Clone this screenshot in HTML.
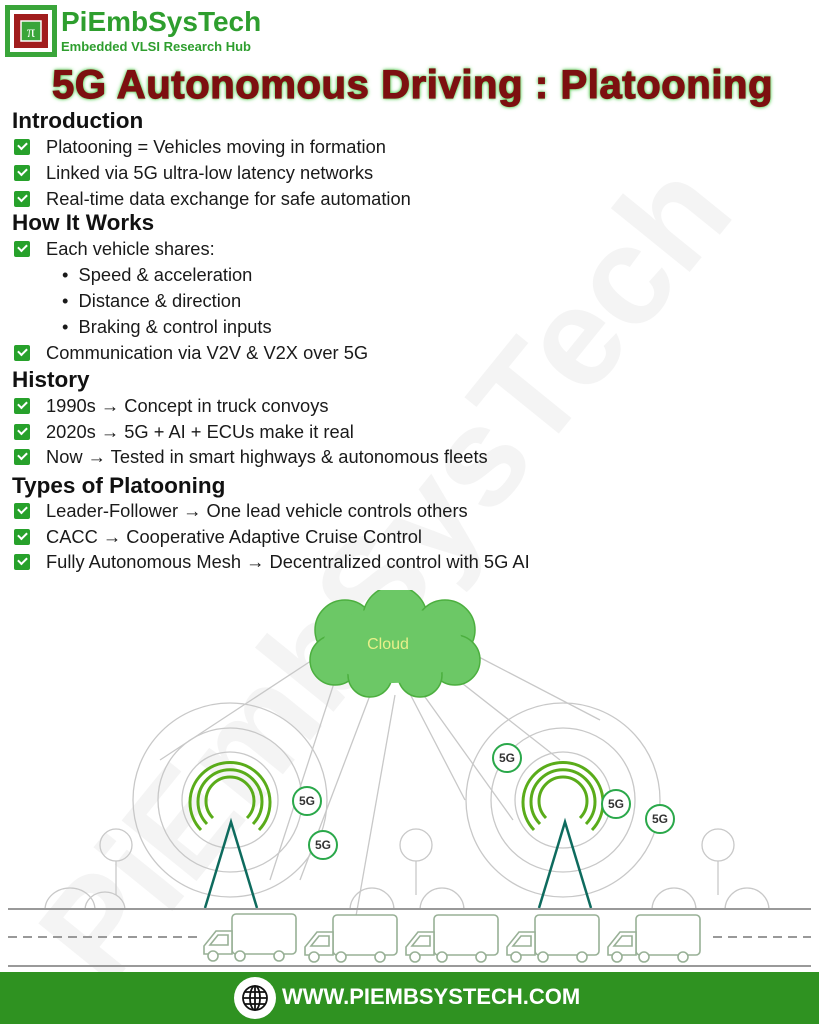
<!DOCTYPE html>
<html><head><meta charset="utf-8"><style>
body{margin:0;width:819px;height:1024px;position:relative;overflow:hidden;background:#fff;font-family:"Liberation Sans",sans-serif}
.a{position:absolute;white-space:nowrap}
.h{font-weight:bold;font-size:22.5px;color:#111;left:12px}
.t{font-size:18.3px;color:#1a1a1a;left:46px}
.cb{position:absolute;left:14px;width:16px;height:16px;background:#27a12b;border-radius:2px}
.cb:after{content:"";position:absolute;left:4px;top:3px;width:7px;height:4px;border-left:2.5px solid #fff;border-bottom:2.5px solid #fff;transform:rotate(-45deg)}
.b{font-size:18.3px;color:#1a1a1a;left:62px}
</style></head><body>
<div class="a" style="left:70px;font-size:140px;font-weight:bold;color:rgba(0,0,0,0.045);transform:rotate(-51deg);transform-origin:left center;top:880px;">PiEmbSysTech</div>

<svg class="a" style="left:5px;top:5px" width="52" height="52" viewBox="0 0 52 52">
<rect x="0" y="0" width="52" height="52" fill="#3aa53a"/>
<rect x="5" y="5" width="42" height="42" fill="#fff"/>
<rect x="9" y="9" width="34" height="34" fill="#a11d1d"/>
<rect x="16" y="16" width="20" height="20" fill="#3aa53a" stroke="#fff" stroke-width="1.5"/>
<text x="26" y="32" font-size="16" fill="#fff" text-anchor="middle" font-family="Liberation Serif">π</text>
</svg>
<div class="a" style="left:61px;top:6px;font-size:28px;font-weight:bold;color:#2e9e2e">PiEmbSysTech</div>
<div class="a" style="left:61px;top:39px;font-size:13px;font-weight:bold;color:#2e9e2e">Embedded VLSI Research Hub</div>

<div class="a" style="left:52px;top:63px;font-size:40px;font-weight:900;color:#7d1010;letter-spacing:0.6px;text-shadow:0 0 3px #3c3,0 0 5px #5c5;-webkit-text-stroke:1.2px #7d1010">5G Autonomous Driving : Platooning</div>

<div class="a h" style="top:108px">Introduction</div>
<div class="cb" style="top:139px"></div><div class="a t" style="top:136px">Platooning = Vehicles moving in formation</div>
<div class="cb" style="top:165px"></div><div class="a t" style="top:162px">Linked via 5G ultra-low latency networks</div>
<div class="cb" style="top:191px"></div><div class="a t" style="top:188px">Real-time data exchange for safe automation</div>
<div class="a h" style="top:210px">How It Works</div>
<div class="cb" style="top:241px"></div><div class="a t" style="top:238px">Each vehicle shares:</div>
<div class="a b" style="top:264px">•&nbsp; Speed &amp; acceleration</div>
<div class="a b" style="top:290px">•&nbsp; Distance &amp; direction</div>
<div class="a b" style="top:316px">•&nbsp; Braking &amp; control inputs</div>
<div class="cb" style="top:345px"></div><div class="a t" style="top:342px">Communication via V2V &amp; V2X over 5G</div>
<div class="a h" style="top:367px">History</div>
<div class="cb" style="top:398px"></div><div class="a t" style="top:395px">1990s → Concept in truck convoys</div>
<div class="cb" style="top:424px"></div><div class="a t" style="top:421px">2020s → 5G + AI + ECUs make it real</div>
<div class="cb" style="top:449px"></div><div class="a t" style="top:446px">Now → Tested in smart highways &amp; autonomous fleets</div>
<div class="a h" style="top:473px">Types of Platooning</div>
<div class="cb" style="top:503px"></div><div class="a t" style="top:500px">Leader-Follower → One lead vehicle controls others</div>
<div class="cb" style="top:529px"></div><div class="a t" style="top:526px">CACC → Cooperative Adaptive Cruise Control</div>
<div class="cb" style="top:554px"></div><div class="a t" style="top:551px">Fully Autonomous Mesh → Decentralized control with 5G AI</div>

<svg class="a" style="left:0;top:590px" width="819" height="382" viewBox="0 590 819 382">
<g fill="none" stroke="#c8c8c8" stroke-width="1.3">
<circle cx="230" cy="800" r="48"/><circle cx="230" cy="800" r="72"/><circle cx="230" cy="800" r="97"/>
<circle cx="563" cy="800" r="48"/><circle cx="563" cy="800" r="72"/><circle cx="563" cy="800" r="97"/>
<line x1="320" y1="655" x2="160" y2="760"/><line x1="335" y1="680" x2="270" y2="880"/>
<line x1="372" y1="690" x2="300" y2="880"/><line x1="395" y1="695" x2="350" y2="950"/>
<line x1="408" y1="690" x2="465" y2="800"/><line x1="420" y1="690" x2="513" y2="820"/>
<line x1="458" y1="680" x2="560" y2="760"/><line x1="475" y1="655" x2="600" y2="720"/>
<circle cx="116" cy="845" r="16"/><line x1="116" y1="861" x2="116" y2="895"/>
<path d="M45 910 a25 22 0 0 1 50 0 M85 910 a20 18 0 0 1 40 0"/>
<circle cx="416" cy="845" r="16"/><line x1="416" y1="861" x2="416" y2="895"/>
<path d="M350 910 a22 22 0 0 1 44 0 M420 910 a22 22 0 0 1 44 0"/>
<circle cx="718" cy="845" r="16"/><line x1="718" y1="861" x2="718" y2="895"/>
<path d="M652 910 a22 22 0 0 1 44 0 M725 910 a22 22 0 0 1 44 0"/>
</g>
<g fill="#6cc866" stroke="#4caf3f" stroke-width="1.5">
<circle cx="345" cy="630" r="30"/><circle cx="395" cy="618" r="32"/><circle cx="445" cy="630" r="30"/>
<circle cx="335" cy="660" r="25"/><circle cx="455" cy="660" r="25"/>
<circle cx="370" cy="675" r="22"/><circle cx="420" cy="675" r="22"/>
</g>
<ellipse cx="393" cy="645" rx="70" ry="38" fill="#6cc866"/>
<text x="388" y="649" font-size="16" fill="#e8f08a" text-anchor="middle">Cloud</text>
<g fill="none" stroke="#5aac1a" stroke-width="3">
<path d="M213 818 a24 24 0 1 1 34 0"/><path d="M207 824 a32 32 0 1 1 46 0"/><path d="M201 830 a40 40 0 1 1 58 0"/>
<path d="M546 818 a24 24 0 1 1 34 0"/><path d="M540 824 a32 32 0 1 1 46 0"/><path d="M534 830 a40 40 0 1 1 58 0"/>
</g>
<g stroke="#0e6b5e" stroke-width="2.5" fill="none">
<path d="M205 908 L231 822 L257 908"/><path d="M539 908 L565 822 L591 908"/>
</g>
<g fill="#fff" stroke="#2aa84a" stroke-width="2">
<circle cx="307" cy="801" r="14"/><circle cx="323" cy="845" r="14"/><circle cx="507" cy="758" r="14"/><circle cx="616" cy="804" r="14"/><circle cx="660" cy="819" r="14"/>
</g>
<g font-size="12" font-weight="bold" fill="#333" text-anchor="middle">
<text x="307" y="805">5G</text><text x="323" y="849">5G</text><text x="507" y="762">5G</text><text x="616" y="808">5G</text><text x="660" y="823">5G</text>
</g>
<line x1="8" y1="909" x2="811" y2="909" stroke="#999" stroke-width="2"/>
<line x1="8" y1="966" x2="811" y2="966" stroke="#999" stroke-width="2"/>
<line x1="8" y1="937" x2="811" y2="937" stroke="#999" stroke-width="2" stroke-dasharray="9 6"/>
<defs><g id="tr"><rect x="0" y="0" width="101" height="48" fill="#fff"/>
<g fill="#fff" stroke="#98b096" stroke-width="1.6">
<rect x="30" y="0" width="64" height="40" rx="4"/>
<path d="M30 17 H14 L2 32 V40 H30 Z"/><path d="M26 21 H16 L8 31 H26 Z"/>
<circle cx="11" cy="42" r="5"/><circle cx="38" cy="42" r="5"/><circle cx="77" cy="42" r="5"/></g></g></defs>
<use href="#tr" x="202" y="914"/><use href="#tr" x="303" y="915"/><use href="#tr" x="404" y="915"/><use href="#tr" x="505" y="915"/><use href="#tr" x="606" y="915"/>
</svg>

<div class="a" style="left:0;top:972px;width:819px;height:52px;background:#2f9221"></div>
<svg class="a" style="left:233px;top:976px" width="44" height="44"><circle cx="22" cy="22" r="21" fill="#fff"/>
<g fill="none" stroke="#111" stroke-width="1.8"><circle cx="22" cy="22" r="12"/><ellipse cx="22" cy="22" rx="5" ry="12"/><line x1="10" y1="22" x2="34" y2="22"/><line x1="12" y1="16" x2="32" y2="16"/><line x1="12" y1="28" x2="32" y2="28"/><line x1="22" y1="10" x2="22" y2="34"/></g></svg>
<div class="a" style="left:282px;top:984px;font-size:22px;font-weight:bold;color:#fff">WWW.PIEMBSYSTECH.COM</div>
</body></html>
